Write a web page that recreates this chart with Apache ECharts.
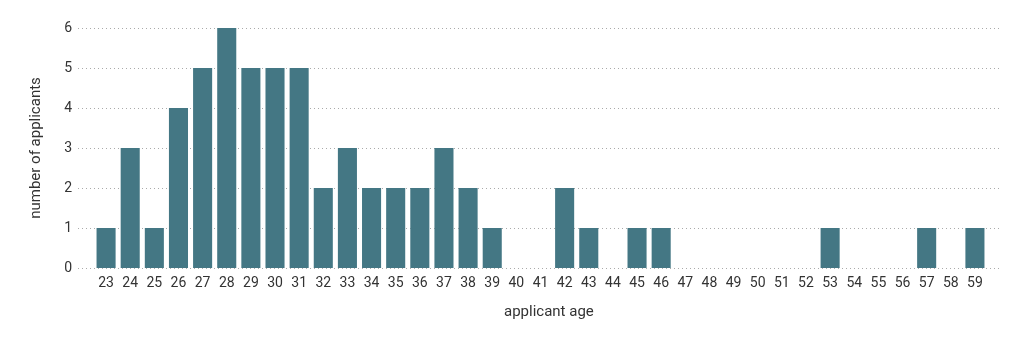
<!DOCTYPE html>
<html><head><meta charset="utf-8">
<script src="https://cdn.jsdelivr.net/npm/echarts@6/dist/echarts.min.js"></script>
<style>html,body{margin:0;padding:0;background:#fff}#c{width:1023px;height:349px}</style>
</head><body><div id="c"></div>
<script>
const ages = ['23','24','25','26','27','28','29','30','31','32','33','34','35','36','37','38','39','40','41','42','43','44','45','46','47','48','49','50','51','52','53','54','55','56','57','58','59'];
const counts = [1,3,1,4,5,6,5,5,5,2,3,2,2,2,3,2,1,0,0,2,1,0,1,1,0,0,0,0,0,0,1,0,0,0,1,0,1];
const yTicks = [0,1,2,3,4,5,6];

const font = 'Roboto';
const chart = echarts.init(document.getElementById('c'));
chart.setOption({
  animation: false,
  textStyle: {fontFamily: font},
  grid: [
    {left: 78, right: 21, top: 28, bottom: 81},
    {left: 94, right: 36, top: 28, bottom: 81}
  ],
  graphic: [{
    type: 'text', left: 504, top: 305,
    style: {text: 'applicant age', fill: '#333', font: '15px Roboto', textAlign: 'center'}
  }],
  xAxis: [
    {gridIndex: 0, type: 'value', show: false, min: 0, max: 1},
    {gridIndex: 1, type: 'category', data: ages,
     axisLine: {show: false}, axisTick: {show: false},
     axisLabel: {color: '#333', fontSize: 14, margin: 8, fontFamily: font, interval: 0}}
  ],
  yAxis: [
    {gridIndex: 0, type: 'value', min: 0, max: 6, interval: 1,
     axisLine: {show: false}, axisTick: {show: false},
     axisLabel: {color: '#333', fontSize: 14, margin: 6, fontFamily: font,
       formatter: v => yTicks.includes(v) ? String(v) : ''},
     splitLine: {lineStyle: {color: '#aaa', type: [1, 3], width: 1}},
     name: 'number of applicants', nameLocation: 'middle', nameGap: 34,
     nameTextStyle: {color: '#333', fontSize: 15, fontFamily: font}},
    {gridIndex: 1, type: 'value', min: 0, max: 6, interval: 1, show: false, splitLine: {show: false}}
  ],
  series: [{
    type: 'bar', xAxisIndex: 1, yAxisIndex: 1, data: counts,
    barCategoryGap: '21%',
    itemStyle: {color: '#447784'}
  }]
});
</script></body></html>
